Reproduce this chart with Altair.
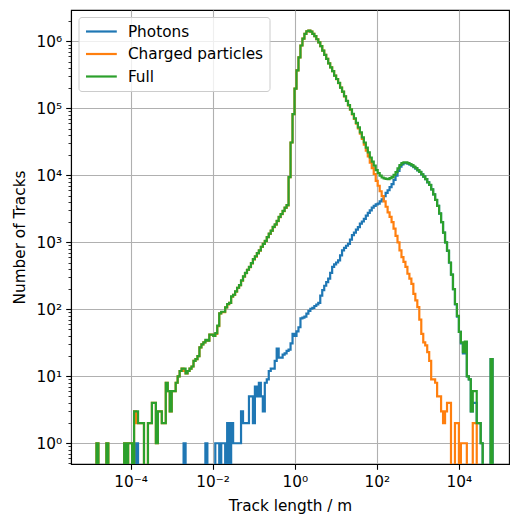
import numpy as np
import pandas as pd
import altair as alt

# ---- histogram binning (log10 of track length in m) ----
LOG_LO, LOG_HI, N_BINS = -4.83, 4.82, 200

SERIES = ["Photons", "Charged particles", "Full"]
COLORS = ["#1f77b4", "#ff7f0e", "#2ca02c"]

photons = [
    0, 0, 0, 0, 0, 0, 0, 0, 0, 0,
    0, 0, 0, 0, 0, 0, 0, 0, 0, 0,
    1, 0, 0, 0, 0, 0, 0, 0, 0, 0,
    0, 0, 0, 0, 0, 0, 0, 0, 0, 0,
    0, 0, 0, 0, 1, 0, 0, 0, 0, 0,
    0, 0, 0, 0, 0, 1, 0, 0, 0, 0,
    1, 1, 0, 1, 1, 0, 2, 0, 2, 1,
    1, 1, 1, 3, 2, 2, 2, 5, 5, 2,
    7, 5, 8, 5, 3, 8, 9, 12, 13, 13,
    17, 26, 19, 19, 21, 22, 24, 25, 31, 43,
    40, 47, 54, 73, 75, 78, 86, 95, 102, 105,
    112, 118, 125, 160, 193, 225, 255, 287, 350, 430,
    470, 500, 540, 640, 760, 830, 890, 950, 1100, 1280,
    1400, 1550, 1690, 1900, 2050, 2240, 2500, 2750, 3000, 3300,
    3500, 3700, 3800, 4100, 4400, 4900, 5500, 6000, 6700, 7400,
    8600, 9950, 11700, 13540, 14600, 15190, 15270, 14960, 14513, 13960,
    13330, 12664, 11892, 11230, 10357, 9568, 8771, 7877, 7183, 6191,
    5191, 4292, 3495, 2695, 1997, 1398, 997, 746, 496, 330,
    200, 118, 78, 46, 31, 22, 32, 10, 9, 3,
    4, 4, 2, 2, 1, 0, 0, 0, 0, 18,
]

charged = [
    1, 0, 0, 0, 0, 1, 0, 0, 0, 0,
    0, 0, 0, 0, 1, 0, 1, 1, 0, 3,
    2, 2, 2, 2, 0, 0, 2, 2, 4, 4,
    1, 3, 3, 2, 2, 8, 6, 3, 6, 6,
    8, 10, 12, 13, 12, 11, 12, 13, 14, 17,
    18, 20, 27, 30, 32, 34, 34, 42, 42, 40,
    43, 56, 87, 91, 91, 107, 118, 125, 154, 164,
    184, 209, 229, 267, 308, 348, 388, 425, 485, 558,
    613, 685, 752, 855, 947, 1042, 1191, 1338, 1487, 1687,
    1833, 2074, 2381, 2631, 2929, 3278, 3576, 9375, 30969, 81957,
    196960, 369953, 579946, 869927, 1099925, 1299922, 1419914, 1449905, 1399898, 1299895,
    1199888, 1079882, 969875, 849840, 729807, 629775, 549745, 469713, 409650, 359570,
    309530, 274500, 239460, 204360, 177240, 151170, 129110, 111050, 95900, 81720,
    69600, 59450, 50310, 42100, 34950, 28760, 23500, 19250, 15500, 12800,
    10500, 8300, 7000, 5800, 4900, 4100, 3400, 2800, 2400, 2000,
    1600, 1250, 1000, 760, 600, 510, 430, 340, 287, 240,
    170, 136, 108, 70, 43, 32, 29, 23, 17, 9,
    9, 8, 5, 5, 3, 2, 3, 4, 4, 0,
    0, 2, 2, 0, 1, 1, 1, 0, 0, 0,
    2, 2, 0, 0, 0, 0, 0, 0, 0, 0,
]

full = [
    1, 0, 0, 0, 0, 1, 0, 0, 0, 0,
    0, 0, 0, 0, 1, 0, 1, 1, 0, 3,
    3, 2, 2, 2, 0, 0, 2, 2, 4, 4,
    1, 3, 3, 2, 2, 8, 6, 3, 6, 6,
    8, 10, 12, 13, 13, 11, 12, 13, 14, 17,
    18, 20, 27, 30, 32, 35, 34, 42, 42, 40,
    44, 57, 87, 92, 92, 107, 120, 125, 156, 165,
    185, 210, 230, 270, 310, 350, 390, 430, 490, 560,
    620, 690, 760, 860, 950, 1050, 1200, 1350, 1500, 1700,
    1850, 2100, 2400, 2650, 2950, 3300, 3600, 9400, 31000, 82000,
    197000, 370000, 580000, 870000, 1100000, 1300000, 1420000, 1450000, 1400000, 1300000,
    1200000, 1080000, 970000, 850000, 730000, 630000, 550000, 470000, 410000, 360000,
    310000, 275000, 240000, 205000, 178000, 152000, 130000, 112000, 97000, 83000,
    71000, 61000, 52000, 44000, 37000, 31000, 26000, 22000, 18500, 16100,
    14000, 12000, 10800, 9900, 9300, 9000, 8900, 8800, 9100, 9400,
    10200, 11200, 12700, 14300, 15200, 15700, 15700, 15300, 14800, 14200,
    13500, 12800, 12000, 11300, 10400, 9600, 8800, 7900, 7200, 6200,
    5200, 4300, 3500, 2700, 2000, 1400, 1000, 750, 500, 330,
    200, 120, 80, 46, 32, 23, 33, 10, 9, 3,
    6, 6, 2, 2, 1, 0, 0, 0, 0, 18,
]

X_MAJOR = [1e-4, 1e-2, 1e0, 1e2, 1e4]
Y_MAJOR = [1e0, 1e1, 1e2, 1e3, 1e4, 1e5, 1e6]
X_DOMAIN = [10 ** -5.45, 10 ** 5.22]
Y_DOMAIN = [10 ** -0.31, 10 ** 6.47]

# minor y ticks (2..9 x each decade) inside the domain
y_ticks = sorted(
    set(Y_MAJOR)
    | {m * 10.0 ** d for d in range(-1, 7) for m in range(2, 10)
       if Y_DOMAIN[0] <= m * 10.0 ** d <= Y_DOMAIN[1]}
)

edges = 10 ** np.linspace(LOG_LO, LOG_HI, N_BINS + 1)

rows = []
for name, counts in zip(SERIES, [photons, charged, full]):
    assert len(counts) == N_BINS
    k = 0
    rows.append({"series": name, "k": k, "x": edges[0], "count": 0}); k += 1
    for i, c in enumerate(counts):
        rows.append({"series": name, "k": k, "x": edges[i], "count": c}); k += 1
        rows.append({"series": name, "k": k, "x": edges[i + 1], "count": c}); k += 1
    rows.append({"series": name, "k": k, "x": edges[-1], "count": 0})
df = pd.DataFrame(rows)

FONT = "DejaVu Sans"
FS = 15.3
SUP = "['⁰','¹','²','³','⁴','⁵','⁶','⁷','⁸','⁹']"
E = "round(log(datum.value)/LN10)"
DECADE = f"abs(log(datum.value)/LN10 - {E}) < 1e-6"

x_axis = alt.Axis(
    values=X_MAJOR,
    labelExpr=f"'10' + ({E} < 0 ? '⁻' : '') + {SUP}[abs({E})]",
    title="Track length / m",
    grid=True, gridColor="#b0b0b0", gridWidth=1.1,
    tickColor="black", tickSize=5.3, tickWidth=1.1,
    domainColor="black", domainWidth=1.1,
    labelFont=FONT, labelFontSize=FS, labelColor="black", labelPadding=5,
    labelOverlap=False, labelFlush=False,
    titleFont=FONT, titleFontSize=FS, titleFontWeight="normal", titleColor="black",
    titlePadding=8.5,
)
y_axis = alt.Axis(
    values=y_ticks,
    labelExpr=f"({DECADE}) ? '10' + {SUP}[{E}] : ''",
    title="Number of Tracks",
    grid=True, gridColor="#b0b0b0", gridWidth=1.1,
    gridOpacity={"condition": {"test": DECADE, "value": 1}, "value": 0},
    tickColor="black",
    tickSize={"condition": {"test": DECADE, "value": 5.3}, "value": 3},
    tickWidth={"condition": {"test": DECADE, "value": 1.1}, "value": 0.8},
    domainColor="black", domainWidth=1.1,
    labelFont=FONT, labelFontSize=FS, labelColor="black", labelPadding=4,
    labelOverlap=False, labelFlush=False,
    titleFont=FONT, titleFontSize=FS, titleFontWeight="normal", titleColor="black",
    titlePadding=9,
)

color = alt.Color(
    "series:N",
    scale=alt.Scale(domain=SERIES, range=COLORS),
    sort=SERIES,
    legend=alt.Legend(
        title=None, orient="none", legendX=7.5, legendY=7,
        symbolType="M-2.2,0H2.2", symbolStrokeWidth=2.2, symbolSize=196,
        symbolOffset=8.4,
        labelFont=FONT, labelFontSize=FS, labelColor="black", labelOffset=18,
        fillColor="rgba(255,255,255,0.8)", strokeColor="#cccccc",
        cornerRadius=3, padding=6, rowPadding=5.5,
    ),
)


def series_layer(name):
    return (
        alt.Chart()
        .transform_filter(alt.datum.series == name)
        .transform_calculate(yv="max(datum.count, 0.01)")
        .mark_line(clip=True, strokeWidth=2.2)
        .encode(
            x=alt.X("x:Q", scale=alt.Scale(type="log", domain=X_DOMAIN, nice=False), axis=x_axis),
            y=alt.Y("yv:Q", scale=alt.Scale(type="log", domain=Y_DOMAIN, nice=False), axis=y_axis),
            color=color,
            order=alt.Order("k:Q"),
        )
    )


chart = (
    alt.layer(*[series_layer(s) for s in SERIES], data=df)
    .properties(
        width=438, height=454,
        padding={"left": 71, "top": 10, "right": 1, "bottom": 52},
        autosize=alt.AutoSizeParams(type="none"),
        background="white",
    )
    .configure_view(stroke="black", strokeWidth=1.1)
)

chart.save("out.html", embed_options={"renderer": "svg", "actions": False})
